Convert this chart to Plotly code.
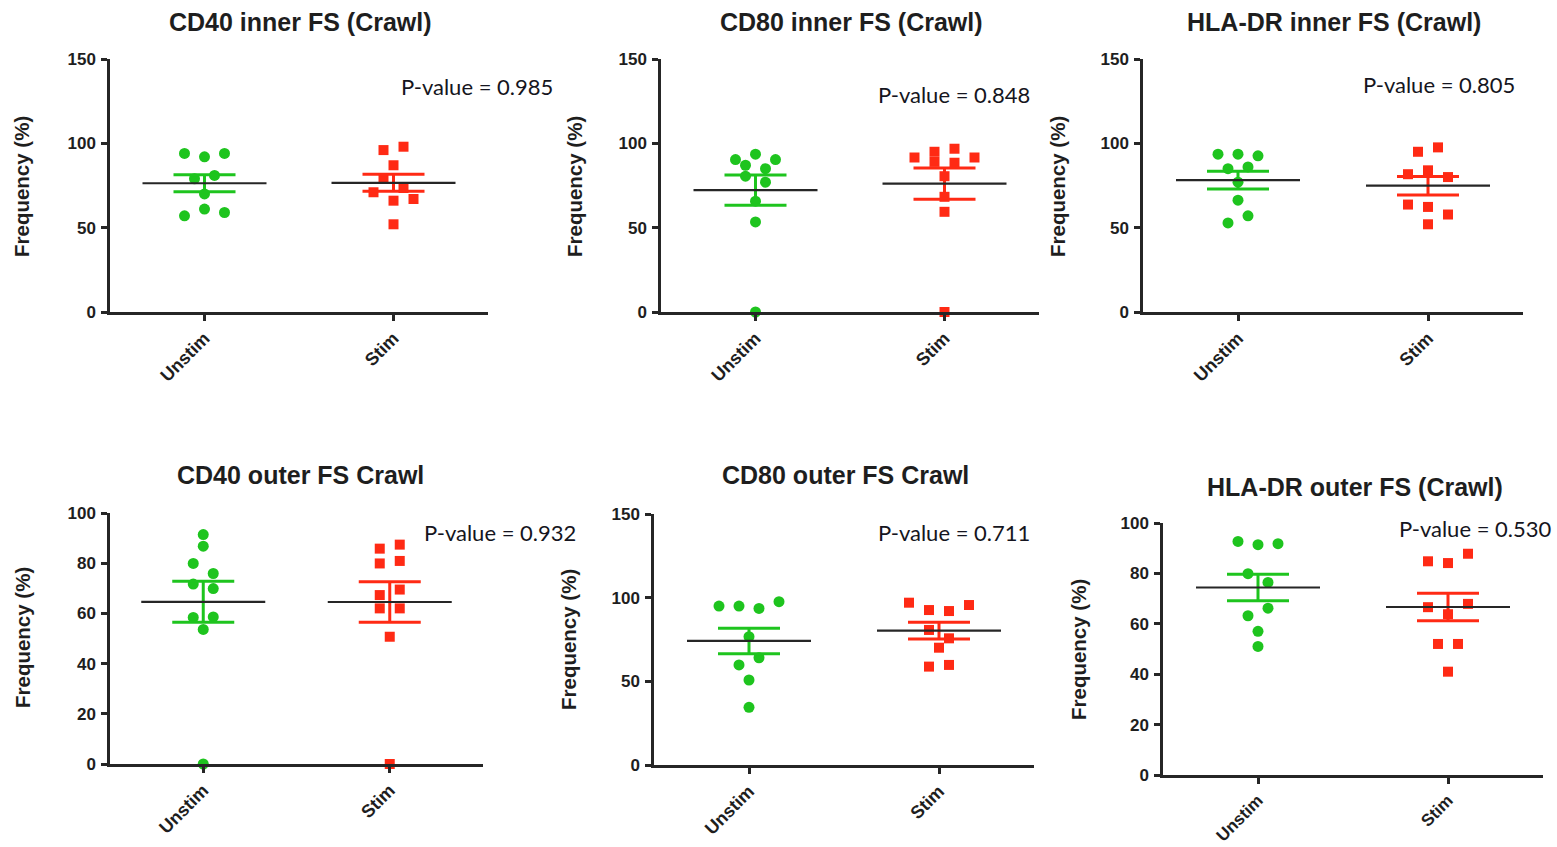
import numpy as np
import plotly.graph_objects as go

W, H = 1557, 847

# ---------------- data ----------------
titles = ["CD40 inner FS (Crawl)", "CD80 inner FS (Crawl)", "HLA-DR inner FS (Crawl)",
          "CD40 outer FS Crawl", "CD80 outer FS Crawl", "HLA-DR outer FS (Crawl)"]
p_values = ["0.985", "0.848", "0.805", "0.932", "0.711", "0.530"]
categories = ["Unstim", "Stim"]
y_label = "Frequency (%)"
y_max = [150, 150, 150, 100, 150, 100]
y_dtick = [50, 50, 50, 20, 50, 20]

cd40_inner_unstim = [94, 92, 94, 79, 81, 70, 57, 61, 59]
cd40_inner_stim = [96, 98, 87, 79, 71, 73.5, 66, 67, 52]
cd80_inner_unstim = [90.4, 93.6, 90.4, 87, 85, 80.5, 77, 65.7, 53.4, 0]
cd80_inner_stim = [91.6, 95, 96.8, 91.6, 89, 88.5, 80.5, 68.3, 59.4, 0]
hladr_inner_unstim = [93.6, 93.6, 92.6, 85, 86, 77, 66.3, 52.8, 57]
hladr_inner_stim = [95, 97.6, 81.7, 84, 80, 63.7, 62.3, 57.8, 52]
cd40_outer_unstim = [91.4, 86.8, 79.9, 75.9, 71.7, 69.9, 58.4, 58.6, 53.6, 0]
cd40_outer_stim = [85.8, 87.4, 79.9, 80.9, 67.3, 69.5, 62, 62, 50.7, 0]
cd80_outer_unstim = [95, 95, 93.6, 97.6, 76.7, 59.8, 64.1, 50.8, 34.5]
cd80_outer_stim = [97, 92.6, 92, 95.6, 80.7, 75.7, 70.1, 58.8, 59.8]
hladr_outer_unstim = [92.7, 91.4, 91.8, 79.9, 76.4, 63.2, 66.2, 57, 51]
hladr_outer_stim = [84.8, 84.1, 87.8, 66.6, 63.8, 67.9, 52, 52, 41]

panels_data = [
    (cd40_inner_unstim, cd40_inner_stim),
    (cd80_inner_unstim, cd80_inner_stim),
    (hladr_inner_unstim, hladr_inner_stim),
    (cd40_outer_unstim, cd40_outer_stim),
    (cd80_outer_unstim, cd80_outer_stim),
    (hladr_outer_unstim, hladr_outer_stim),
]

# ---------------- layout (pixel boxes) ----------------
# x0, x1, y_top, y_bottom of each plot area
boxes = [
    (110, 488, 59, 312),
    (661, 1039, 59, 312),
    (1143, 1523, 59, 312),
    (110, 483, 513, 764),
    (654, 1034, 514, 765),
    (1163, 1543, 523, 775),
]
title_pos = [(300, 22), (851, 22), (1334, 22), (300, 475), (845, 475), (1355, 487)]
# right end x, centre y of the P-value texts
pval_pos = [(555, 87), (1032, 94), (1517, 85), (578, 532), (1032, 532), (1553, 528)]
ylab_pos = [(22, 187), (575, 187), (1058, 187), (22, 638), (568, 640), (1078, 650)]
xtick_size = [18, 18, 18, 18, 18, 17]

GREEN = "#1ec41e"
RED = "#ff2a14"
AX = "#262626"
TXT = "#1e1e1e"


def swarm_offsets(vals, px_per_y, px_per_x, step_px=20.0, thresh_px=10.5):
    vals = np.asarray(vals, float)
    order = np.argsort(-vals, kind="stable")
    rows, cur = [], []
    for idx in order:
        if cur and (vals[cur[0]] - vals[idx]) * px_per_y < thresh_px:
            cur.append(idx)
        else:
            if cur:
                rows.append(cur)
            cur = [idx]
    if cur:
        rows.append(cur)
    off = np.zeros(len(vals))
    for r in rows:
        r = sorted(r)
        k = len(r)
        for j, idx in enumerate(r):
            off[idx] = (j - (k - 1) / 2.0) * step_px / px_per_x
    return off


fig = go.Figure()
annotations = []

for i, ((unst, st), (x0, x1, yt, yb)) in enumerate(zip(panels_data, boxes)):
    n = i + 1
    xa = "x" if n == 1 else f"x{n}"
    ya = "y" if n == 1 else f"y{n}"
    px_per_x = (x1 - x0) / 2.0
    px_per_y = (yb - yt) / y_max[i]

    for c, (vals, color, sym) in enumerate([(unst, GREEN, "circle"), (st, RED, "square")]):
        v = np.asarray(vals, float)
        xs = c + swarm_offsets(v, px_per_y, px_per_x)
        fig.add_trace(go.Scatter(
            x=xs, y=v, mode="markers", xaxis=xa, yaxis=ya, cliponaxis=False,
            marker=dict(color=color, symbol=sym, size=11 if sym == "circle" else 10,
                        line=dict(width=0)),
            hoverinfo="y", showlegend=False))

    for c, (vals, color) in enumerate([(unst, GREEN), (st, RED)]):
        v = np.asarray(vals, float)
        m = v.mean()
        sem = v.std(ddof=1) / np.sqrt(len(v))
        hw_sem = 31 / px_per_x
        hw_mean = 62 / px_per_x
        fig.add_trace(go.Scatter(
            x=[c - hw_sem, c + hw_sem, None, c - hw_sem, c + hw_sem, None, c, c],
            y=[m + sem, m + sem, None, m - sem, m - sem, None, m - sem, m + sem],
            mode="lines", xaxis=xa, yaxis=ya, line=dict(color=color, width=3),
            hoverinfo="skip", showlegend=False))
        fig.add_trace(go.Scatter(
            x=[c - hw_mean, c + hw_mean], y=[m, m], mode="lines", xaxis=xa, yaxis=ya,
            line=dict(color=AX, width=2.2), hoverinfo="skip", showlegend=False))

    xkey = "xaxis" if n == 1 else f"xaxis{n}"
    ykey = "yaxis" if n == 1 else f"yaxis{n}"
    fig.update_layout(**{
        xkey: dict(domain=[x0 / W, x1 / W], anchor=ya, range=[-0.5, 1.5], automargin=False,
                   tickvals=[0, 1], ticktext=categories, tickangle=-45,
                   ticks="outside", ticklen=6, tickwidth=2.5, tickcolor=AX,
                   showline=True, linewidth=2.5, linecolor=AX, showgrid=False,
                   zeroline=False, ticklabelstandoff=0,
                   tickfont=dict(family="Liberation Sans", size=xtick_size[i], color=TXT,
                                 weight="bold")),
        ykey: dict(domain=[1 - yb / H, 1 - yt / H], anchor=xa, range=[0, y_max[i]],
                   automargin=False,
                   tickvals=list(range(0, y_max[i] + 1, y_dtick[i])),
                   ticks="outside", ticklen=6, tickwidth=2.5, tickcolor=AX,
                   showline=True, linewidth=2.5, linecolor=AX, showgrid=False,
                   zeroline=False, ticklabelstandoff=2,
                   tickfont=dict(family="Liberation Sans", size=17, color=TXT, weight="bold")),
    })

    tx, ty = title_pos[i]
    annotations.append(dict(text=titles[i], x=tx / W, y=1 - ty / H, xref="paper", yref="paper",
                            xanchor="center", yanchor="middle", showarrow=False,
                            font=dict(family="Liberation Sans", size=25, color=TXT, weight="bold")))
    px_, py_ = pval_pos[i]
    annotations.append(dict(text=f"P-value = {p_values[i]}", x=px_ / W, y=1 - py_ / H,
                            xref="paper", yref="paper", xanchor="right", yanchor="middle",
                            showarrow=False,
                            font=dict(family="Lato", size=22, color="#151520")))
    lx, ly = ylab_pos[i]
    annotations.append(dict(text=y_label, x=lx / W, y=1 - ly / H, xref="paper", yref="paper",
                            xanchor="center", yanchor="middle", textangle=-90, showarrow=False,
                            font=dict(family="Liberation Sans", size=20.5, color=TXT, weight="bold")))

fig.update_layout(width=W, height=H, margin=dict(l=0, r=0, t=0, b=0, autoexpand=False),
                  paper_bgcolor="white", plot_bgcolor="white", showlegend=False,
                  annotations=annotations)

fig.write_html("out.html",
               config={"displayModeBar": False},
               post_script="document.body.style.margin='0px';"
                           "document.documentElement.style.overflow='hidden';")
